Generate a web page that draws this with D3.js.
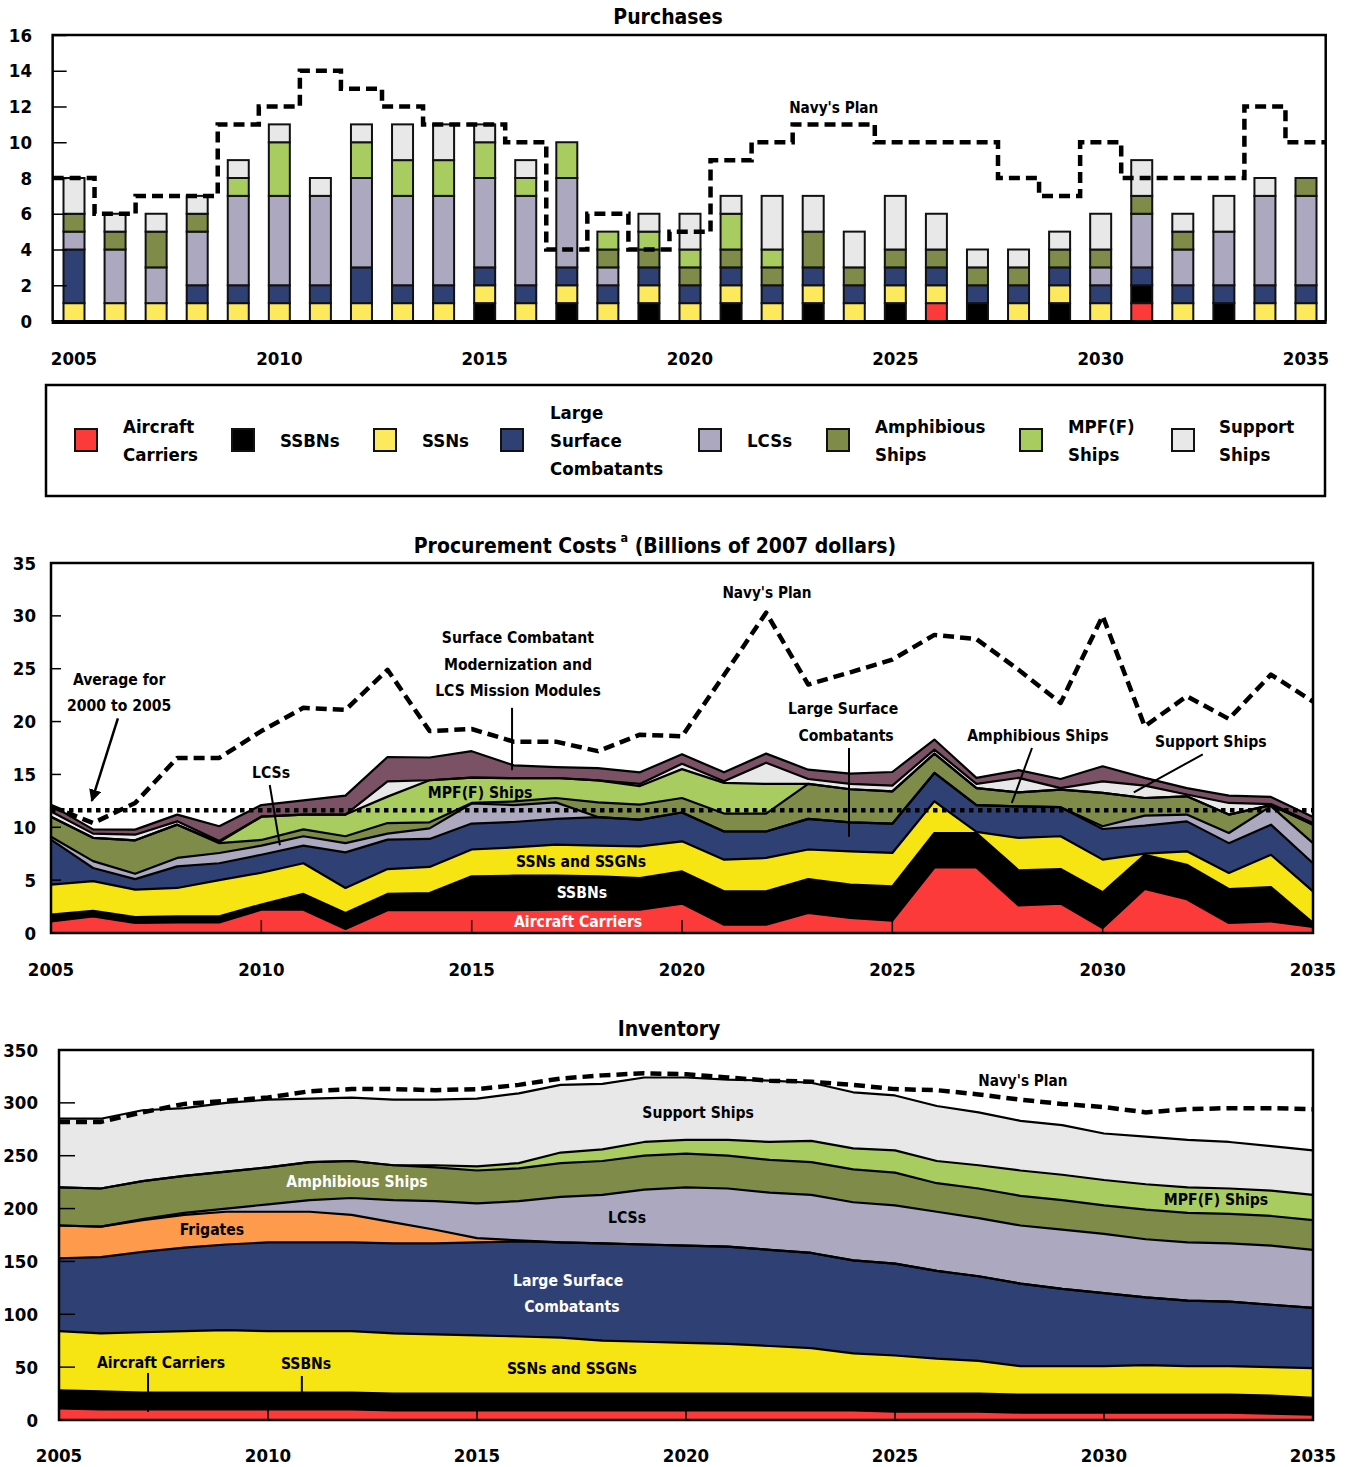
<!DOCTYPE html>
<html lang="en">
<head>
<meta charset="utf-8"/>
<title>Navy shipbuilding: purchases, costs, inventory</title>
<script src="https://cdn.jsdelivr.net/npm/d3@7/dist/d3.min.js"></script>
<style>
  html, body { margin:0; padding:0; background:#fff; }
  svg {
    display:block;
    font-family:"DejaVu Sans Condensed","Liberation Sans Narrow","DejaVu Sans",sans-serif;
    font-stretch:condensed;
    font-weight:bold;
  }
</style>
</head>
<body>
<svg id="chart" width="1351" height="1467"></svg>
<script>
// ---- data ----------------------------------------------------------
const years = d3.range(2005, 2036);

// purchases (ships per year)
const buyCarriers = [0,0,0,0,0,0,0,0,0,0,0,0,0,0,0,0,0,0,0,0,0,1,0,0,0,0,1,0,0,0,0];
const buySSBN     = [0,0,0,0,0,0,0,0,0,0,1,0,1,0,1,0,1,0,1,0,1,0,1,0,1,0,1,0,1,0,0];
const buySSN      = [1,1,1,1,1,1,1,1,1,1,1,1,1,1,1,1,1,1,1,1,1,1,0,1,1,1,0,1,0,1,1];
const buyLSC      = [3,0,0,1,1,1,1,2,1,1,1,1,1,1,1,1,1,1,1,1,1,1,1,1,1,1,1,1,1,1,1];
const buyLCS      = [1,3,2,3,5,5,5,5,5,5,5,5,5,1,0,0,0,0,0,0,0,0,0,0,0,1,3,2,3,5,5];
const buyAmphib   = [1,1,2,1,0,0,0,0,0,0,0,0,0,1,1,1,1,1,2,1,1,1,1,1,1,1,1,1,0,0,1];
const buyMPF      = [0,0,0,0,1,3,0,2,2,2,2,1,2,1,1,1,2,1,0,0,0,0,0,0,0,0,0,0,0,0,0];
const buySupport  = [2,1,1,1,1,1,1,1,2,2,1,1,0,0,1,2,1,3,2,2,3,2,1,1,1,2,2,1,2,1,0];
const buyPlan     = [8,6,7,7,11,12,14,13,12,11,11,10,4,6,4,5,9,10,11,11,10,10,10,8,7,10,8,8,8,12,10];

// procurement costs (billions of 2007 dollars)
const costCarriers = [1.1,1.58,0.95,1.0,1.0,2.2,2.2,0.38,2.15,2.15,2.15,2.15,2.2,2.2,2.2,2.78,0.79,0.79,1.9,1.42,1.17,6.2,6.2,2.6,2.78,0.47,4.16,3.2,0.95,1.1,0.57];
const costSSBN     = [0.63,0.52,0.55,0.58,0.58,0.5,1.5,1.52,1.55,1.63,3.21,3.27,3.22,3.16,3.0,3.05,3.15,3.15,3.2,3.15,3.24,3.26,3.26,3.33,3.27,3.38,3.24,3.26,3.21,3.25,0.38];
const costSSN      = [2.84,2.8,2.6,2.68,3.42,3.0,2.9,2.36,2.35,2.47,2.54,2.68,2.94,2.9,3.0,2.84,3.0,3.16,2.8,3.16,3.16,3.0,0.1,3.07,3.1,3.09,0.1,1.27,1.52,3.05,2.99];
const costLSC      = [4.26,1.25,1.0,2.04,1.6,1.7,1.66,3.37,2.78,2.65,2.45,2.4,2.44,2.71,2.52,2.73,2.66,2.5,2.9,2.74,2.77,2.68,2.54,2.98,2.75,2.9,2.65,2.83,2.82,2.85,2.66];
const costLCS      = [0.27,0.65,0.5,0.8,0.97,0.86,0.89,0.87,0.57,1.0,1.9,1.6,1.56,0,0,0,0,0,0,0,0,0,0,0,0,0.26,0.95,0.64,0.96,1.75,1.9];
const costAmphib   = [1.9,2.2,3.17,3.15,0.93,0.54,0.65,0.65,1.0,0.57,0.05,0.35,0.41,1.39,1.42,1.37,1.7,1.7,3.3,3.13,3.06,1.83,1.6,1.32,1.66,3.15,1.67,1.73,1.74,0.1,1.75];
const costMPF      = [0,0,0,0,0.1,2.2,1.4,2.05,2.5,3.98,2.4,2.2,1.89,2.08,1.76,2.73,2.9,2.8,0,0,0,0,0,0,0,0,0,0,0,0,0];
const costSupport  = [0.5,0.4,0.53,0.31,0.1,0,0,0,1.45,0,0,0,0,0,0.2,0.5,0.15,2.0,0.47,0.5,0.54,0.38,0.4,1.37,0.14,1.1,1.17,0.17,1.1,0.1,0.15];
const costSCM      = [0.6,0.4,0.48,0.64,1.4,1.1,1.35,1.8,2.3,2.15,2.5,1.21,1.04,1.16,1.1,0.9,0.85,0.87,0.88,0.97,1.29,0.95,0.57,0.73,0.87,1.42,0.73,0.6,0.7,0.67,0.57];
const costPlan     = [12.0,10.4,12.3,16.56,16.56,19.1,21.3,21.1,24.9,19.1,19.3,18.1,18.1,17.2,18.76,18.6,24.4,30.3,23.5,24.66,25.86,28.2,27.8,24.9,21.76,30.0,19.55,22.4,20.25,24.44,21.9];
const costAverage  = 11.6;   // average for 2000 to 2005

// inventory (number of ships)
const invCarriers = [11,10,10,10,10,10,10,10,9,9,9,9,9,9,9,9,9,9,9,9,8,8,8,7,7,7,7,7,7,6,5];
const invSSBN     = [17,17,16,16,16,16,16,16,16,16,16,16,16,16,16,16,16,16,16,16,17,17,17,17,17,17,17,17,17,17,16];
const invSSN      = [56,55,57,58,59,58,58,58,57,56,55,54,53,50,49,48,47,45,43,38,36,33,31,27,27,27,28,27,27,27,28];
const invLSC      = [69,72,76,79,81,84,84,84,85,86,88,90,90,92,92,92,92,91,90,88,87,83,80,78,73,69,64,62,61,59,57];
const invFrigates = [31,29,30,31,31,29,29,26,20,13,4,1,0,0,0,0,0,0,0,0,0,0,0,0,0,0,0,0,0,0,0];
const invLCS      = [0,0,1,2,3,7,11,16,21,27,33,37,43,46,52,55,55,54,55,55,55,56,55,55,56,56,55,55,55,56,55];
const invAmphib   = [36,36,36,35,35,35,36,35,33,32,31,31,32,32,32,32,31,31,31,31,31,27,28,28,28,27,28,28,28,28,28];
const invMPF      = [0,0,0,0,0,0,0,0,0,2,4,5,10,11,13,13,15,17,20,20,21,21,22,24,24,24,24,24,24,24,24];
const invSupport  = [65,66,67,64,65,64,60,60,62,62,64,66,64,62,61,59,57,58,55,53,52,52,50,47,47,44,45,45,44,42,42];
const invPlan     = [282,282,291,299,302,305,311,313,313,312,313,317,323,326,328,327,324,321,320,317,313,312,308,303,299,296,291,294,295,295,294];

const yearLabels = [2005,2010,2015,2020,2025,2030,2035];

// ---- styling -------------------------------------------------------
const color = {
  carriers:"#fd3a3a", ssbn:"#000000", ssn:"#f6e512", lsc:"#2f4174",
  frigates:"#fd9a4c", lcs:"#aba8c0", amphib:"#7f8b49", mpf:"#a8cc5f",
  support:"#e8e8e8", scm:"#7b5165"
};
const barYellow = "#fde95c";
const TICK = 18.5, NOTE = 15.6, TITLE = 21;

const svg = d3.select("#chart");

function label(g, txt, x, y, size, fill, anchor) {
  return g.append("text")
    .attr("x", x).attr("y", y)
    .attr("text-anchor", anchor || "middle")
    .attr("dominant-baseline", "central")
    .attr("font-size", size)
    .attr("fill", fill || "#000")
    .text(txt);
}

svg.append("defs").append("marker")
  .attr("id","arrow").attr("viewBox","0 0 10 10")
  .attr("refX",9).attr("refY",5)
  .attr("markerWidth",5).attr("markerHeight",5)
  .attr("orient","auto")
  .append("path").attr("d","M0,0 L10,5 L0,10 z").attr("fill","#000");

// ---- 1. purchases --------------------------------------------------
{
  const g = svg.append("g");
  const x = d3.scaleLinear().domain([2005, 2035]).range([74, 1306]);
  const y = d3.scaleLinear().domain([0, 16]).range([321, 35]);
  const left = x(2004.48), right = x(2035.48);
  const half = (x(2006) - x(2005)) / 2;

  label(g, "Purchases", 668, 17, TITLE);

  const keys = ["carriers","ssbn","ssn","lsc","lcs","amphib","mpf","support"];
  const rows = years.map((yr, i) => ({
    year: yr, carriers: buyCarriers[i], ssbn: buySSBN[i], ssn: buySSN[i],
    lsc: buyLSC[i], lcs: buyLCS[i], amphib: buyAmphib[i], mpf: buyMPF[i],
    support: buySupport[i]
  }));
  const stacked = d3.stack().keys(keys)(rows);

  g.selectAll("g.layer")
    .data(stacked)
    .join("g")
      .attr("class", "layer")
      .attr("fill", d => d.key === "ssn" ? barYellow : color[d.key])
    .selectAll("rect")
    .data(d => d.filter(p => p[1] > p[0]))
    .join("rect")
      .attr("x", p => x(p.data.year) - 10.5)
      .attr("width", 21)
      .attr("y", p => y(p[1]))
      .attr("height", p => y(p[0]) - y(p[1]))
      .attr("stroke", "#111")
      .attr("stroke-width", 2);

  // frame
  g.append("path")
    .attr("d", `M${left},${y(0)} V${y(16)} H${right} V${y(0)}`)
    .attr("fill","none").attr("stroke","#000").attr("stroke-width",2.5);
  g.append("line")
    .attr("x1", left - 1).attr("x2", right + 1)
    .attr("y1", y(0) + 1).attr("y2", y(0) + 1)
    .attr("stroke","#000").attr("stroke-width",4);

  // y axis
  const yAxis = d3.axisRight(y).tickValues(d3.range(0, 17, 2)).tickSize(14).tickFormat("");
  g.append("g").attr("transform", `translate(${left},0)`).call(yAxis)
    .call(a => a.select(".domain").remove())
    .selectAll("line").attr("stroke","#000").attr("stroke-width",1.5);
  d3.range(0, 17, 2).forEach(v => label(g, v, 32, y(v), TICK, "#000", "end"));

  yearLabels.forEach(v => label(g, v, x(v), 358, TICK));

  // Navy's plan step line
  const pts = years.map((yr, i) => [i === 0 ? left : x(yr) - half, buyPlan[i]]);
  pts.push([right, buyPlan[buyPlan.length - 1]]);
  g.append("path")
    .attr("d", d3.line().x(d => d[0]).y(d => y(d[1])).curve(d3.curveStepAfter)(pts))
    .attr("fill","none").attr("stroke","#000")
    .attr("stroke-width",4.5).attr("stroke-dasharray","11,6");
  label(g, "Navy's Plan", x(2023.5), y(11.9), 15.2);
}

// ---- legend --------------------------------------------------------
{
  const g = svg.append("g");
  g.append("rect").attr("x",46).attr("y",385).attr("width",1279).attr("height",111)
    .attr("fill","none").attr("stroke","#000").attr("stroke-width",2.5);
  const items = [
    {key:"carriers", sx:75,   tx:123,  lines:["Aircraft","Carriers"]},
    {key:"ssbn",     sx:232,  tx:280,  lines:["SSBNs"]},
    {key:"ssn",      sx:374,  tx:422,  lines:["SSNs"]},
    {key:"lsc",      sx:501,  tx:550,  lines:["Large","Surface","Combatants"]},
    {key:"lcs",      sx:699,  tx:747,  lines:["LCSs"]},
    {key:"amphib",   sx:827,  tx:875,  lines:["Amphibious","Ships"]},
    {key:"mpf",      sx:1020, tx:1068, lines:["MPF(F)","Ships"]},
    {key:"support",  sx:1172, tx:1219, lines:["Support","Ships"]}
  ];
  items.forEach(it => {
    g.append("rect").attr("x", it.sx).attr("y", 429).attr("width", 22).attr("height", 22)
      .attr("fill", it.key === "ssn" ? barYellow : color[it.key])
      .attr("stroke","#111").attr("stroke-width",2);
    const n = it.lines.length;
    it.lines.forEach((t, k) => label(g, t, it.tx, 440 + (k - (n - 1) / 2) * 28, 18.5, "#000", "start"));
  });
}

// ---- stacked area helper -------------------------------------------
function areaChart(g, keys, rows, x, y) {
  const stacked = d3.stack().keys(keys)(rows);
  const area = d3.area().x(d => x(d.data.year)).y0(d => y(d[0])).y1(d => y(d[1]));
  const top = d3.line().x(d => x(d.data.year)).y(d => y(d[1]));
  g.selectAll("path.area").data(stacked).join("path")
    .attr("class","area").attr("d", area).attr("fill", d => color[d.key]);
  g.selectAll("path.edge").data(stacked).join("path")
    .attr("class","edge").attr("d", top)
    .attr("fill","none").attr("stroke","#000").attr("stroke-width",2.2)
    .attr("stroke-linejoin","round");
}

function frame(g, x, y, x0, x1, ymax, ystep, yTick, xTick) {
  g.append("rect").attr("x", x(x0)).attr("y", y(ymax))
    .attr("width", x(x1) - x(x0)).attr("height", y(0) - y(ymax))
    .attr("fill","none").attr("stroke","#000").attr("stroke-width",2.5);
  d3.range(0, ymax + 0.001, ystep).forEach(v =>
    g.append("line").attr("x1", x(x0)).attr("x2", x(x0) + yTick)
      .attr("y1", y(v)).attr("y2", y(v)).attr("stroke","#000").attr("stroke-width",1.5));
  yearLabels.slice(1, -1).forEach(v =>
    g.append("line").attr("x1", x(v)).attr("x2", x(v))
      .attr("y1", y(0)).attr("y2", y(0) - xTick).attr("stroke","#000").attr("stroke-width",1.5));
}

// ---- 2. procurement costs ------------------------------------------
{
  const g = svg.append("g");
  const x = d3.scaleLinear().domain([2005, 2035]).range([51, 1313]);
  const y = d3.scaleLinear().domain([0, 35]).range([933, 563]);

  const t = g.append("text").attr("x", 655).attr("y", 546)
    .attr("text-anchor","middle").attr("dominant-baseline","central").attr("font-size",TITLE);
  t.append("tspan").text("Procurement Costs");
  t.append("tspan").attr("dy",-9).attr("font-size",12.5).text(" a");
  t.append("tspan").attr("dy",9).text(" (Billions of 2007 dollars)");

  const keys = ["carriers","ssbn","ssn","lsc","lcs","amphib","mpf","support","scm"];
  const rows = years.map((yr, i) => ({
    year: yr, carriers: costCarriers[i], ssbn: costSSBN[i], ssn: costSSN[i],
    lsc: costLSC[i], lcs: costLCS[i], amphib: costAmphib[i], mpf: costMPF[i],
    support: costSupport[i], scm: costSCM[i]
  }));
  areaChart(g, keys, rows, x, y);
  frame(g, x, y, 2005, 2035, 35, 5, 10, 13);

  d3.range(0, 36, 5).forEach(v => label(g, v, 36, y(v), TICK, "#000", "end"));
  yearLabels.forEach(v => label(g, v, x(v), 969, TICK));

  // average and plan
  g.append("line").attr("x1", x(2005)).attr("x2", x(2035))
    .attr("y1", y(costAverage)).attr("y2", y(costAverage))
    .attr("stroke","#000").attr("stroke-width",4.5).attr("stroke-dasharray","4.5,4.5");
  g.append("path")
    .attr("d", d3.line().x((d, i) => x(years[i])).y(d => y(d))(costPlan))
    .attr("fill","none").attr("stroke","#000").attr("stroke-width",4.5)
    .attr("stroke-dasharray","11,6").attr("stroke-linejoin","round");

  // annotations
  const lead = (a, b) => g.append("line")
    .attr("x1", x(a[0])).attr("y1", y(a[1])).attr("x2", x(b[0])).attr("y2", y(b[1]))
    .attr("stroke","#000").attr("stroke-width",2);
  label(g, "Average for", x(2006.62), y(23.9), NOTE);
  label(g, "2000 to 2005", x(2006.62), y(21.45), NOTE);
  lead([2006.59, 20.3], [2005.97, 12.5]).attr("stroke-width",2.5).attr("marker-end","url(#arrow)");
  label(g, "LCSs", x(2010.23), y(15.1), NOTE);
  lead([2010.2, 14.0], [2010.44, 8.3]);
  label(g, "Surface Combatant", x(2016.1), y(27.9), NOTE);
  label(g, "Modernization and", x(2016.1), y(25.35), NOTE);
  label(g, "LCS Mission Modules", x(2016.1), y(22.9), NOTE);
  lead([2015.96, 21.3], [2015.96, 15.4]);
  label(g, "MPF(F) Ships", x(2015.2), y(13.2), NOTE);
  label(g, "Navy's Plan", x(2022.02), y(32.2), 15.2);
  label(g, "Large Surface", x(2023.83), y(21.2), NOTE);
  label(g, "Combatants", x(2023.9), y(18.65), NOTE);
  lead([2023.97, 17.5], [2023.97, 9.1]);
  label(g, "Amphibious Ships", x(2028.46), y(18.6), NOTE);
  lead([2028.32, 17.5], [2027.84, 12.3]);
  label(g, "Support Ships", x(2032.57), y(18.05), NOTE);
  lead([2032.38, 16.9], [2030.74, 13.3]);
  label(g, "SSNs and SSGNs", x(2017.6), y(6.7), NOTE);
  label(g, "SSBNs", x(2017.62), y(3.8), NOTE, "#fff");
  label(g, "Aircraft Carriers", x(2017.53), y(1.04), NOTE, "#fff");
}

// ---- 3. inventory --------------------------------------------------
{
  const g = svg.append("g");
  const x = d3.scaleLinear().domain([2005, 2035]).range([59, 1313]);
  const y = d3.scaleLinear().domain([0, 350]).range([1420, 1050]);

  label(g, "Inventory", 669, 1029, TITLE);

  const keys = ["carriers","ssbn","ssn","lsc","frigates","lcs","amphib","mpf","support"];
  const rows = years.map((yr, i) => ({
    year: yr, carriers: invCarriers[i], ssbn: invSSBN[i], ssn: invSSN[i],
    lsc: invLSC[i], frigates: invFrigates[i], lcs: invLCS[i], amphib: invAmphib[i],
    mpf: invMPF[i], support: invSupport[i]
  }));
  areaChart(g, keys, rows, x, y);
  frame(g, x, y, 2005, 2035, 350, 50, 16, 10);

  d3.range(0, 351, 50).forEach(v => label(g, v, 38, y(v), TICK, "#000", "end"));
  yearLabels.forEach(v => label(g, v, x(v), 1455, TICK));

  g.append("path")
    .attr("d", d3.line().x((d, i) => x(years[i])).y(d => y(d))(invPlan))
    .attr("fill","none").attr("stroke","#000").attr("stroke-width",4.5)
    .attr("stroke-dasharray","11,6");

  const lead = (a, b) => g.append("line")
    .attr("x1", x(a[0])).attr("y1", y(a[1])).attr("x2", x(b[0])).attr("y2", y(b[1]))
    .attr("stroke","#000").attr("stroke-width",2);
  label(g, "Navy's Plan", x(2028.06), y(320.7), 15.2);
  label(g, "Support Ships", x(2020.29), y(290.4), NOTE);
  label(g, "Amphibious Ships", x(2012.13), y(225.2), NOTE, "#fff");
  label(g, "Frigates", x(2008.66), y(179.8), NOTE);
  label(g, "LCSs", x(2018.59), y(191.1), NOTE);
  label(g, "Large Surface", x(2017.18), y(131.5), NOTE, "#fff");
  label(g, "Combatants", x(2017.27), y(106.9), NOTE, "#fff");
  label(g, "MPF(F) Ships", x(2032.68), y(208.1), NOTE);
  label(g, "Aircraft Carriers", x(2007.44), y(53.9), NOTE);
  lead([2007.13, 44.5], [2007.13, 7.6]);
  label(g, "SSBNs", x(2010.91), y(53), NOTE);
  lead([2010.81, 41.6], [2010.81, 25.5]);
  label(g, "SSNs and SSGNs", x(2017.27), y(48.2), NOTE);
}
</script>
</body>
</html>
